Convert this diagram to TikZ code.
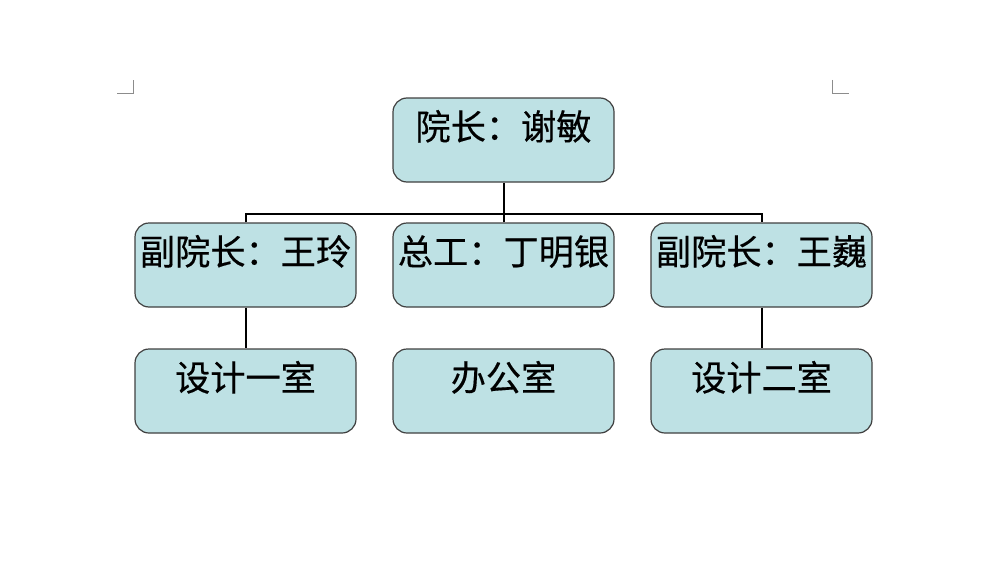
\documentclass[tikz,border=0pt]{standalone}
\usepackage{fontspec}
\newfontfamily\cjk[FakeBold=0.4]{Noto Sans CJK SC}
\definecolor{boxfill}{RGB}{190,225,228}

\begin{document}
\begin{tikzpicture}[x=0.5pt, y=-0.5pt,
	unit/.style={draw=black!75, fill=boxfill, rounded corners=7pt, line width=0.6pt,
		minimum width=110.5pt, inner sep=0pt, text height=20.9pt, text depth=21.1pt,
		font=\cjk\fontsize{17.6}{20}\selectfont},
	link/.style={line width=1pt}]
	\useasboundingbox (0,0) rectangle (983,567);
	% page corner marks
	\draw[black!45] (117,93) -- (133,93) -- (133,80);
	\draw[black!45] (832,80) -- (832,93) -- (849,93);
	% units
	\node[unit] (dean) at (503.5,140) {院长：谢敏};
	\node[unit] (vp1) at (245.5,265) {副院长：王玲};
	\node[unit] (chief) at (503.5,265) {总工：丁明银};
	\node[unit] (vp2) at (761.5,265) {副院长：王巍};
	\node[unit] (room1) at (245.5,391) {设计一室};
	\node[unit] (office) at (503.5,391) {办公室};
	\node[unit] (room2) at (761.5,391) {设计二室};
	% connectors
	\coordinate (bus) at (503.5,214);
	\draw[link] (dean.south) -- (dean.south |- bus);
	\draw[link] (vp1.north) -- (vp1.north |- bus) -| (vp2.north);
	\draw[link] (chief.north) -- (chief.north |- bus);
	\draw[link] (vp1) -- (room1);
	\draw[link] (vp2) -- (room2);
\end{tikzpicture}
\end{document}
